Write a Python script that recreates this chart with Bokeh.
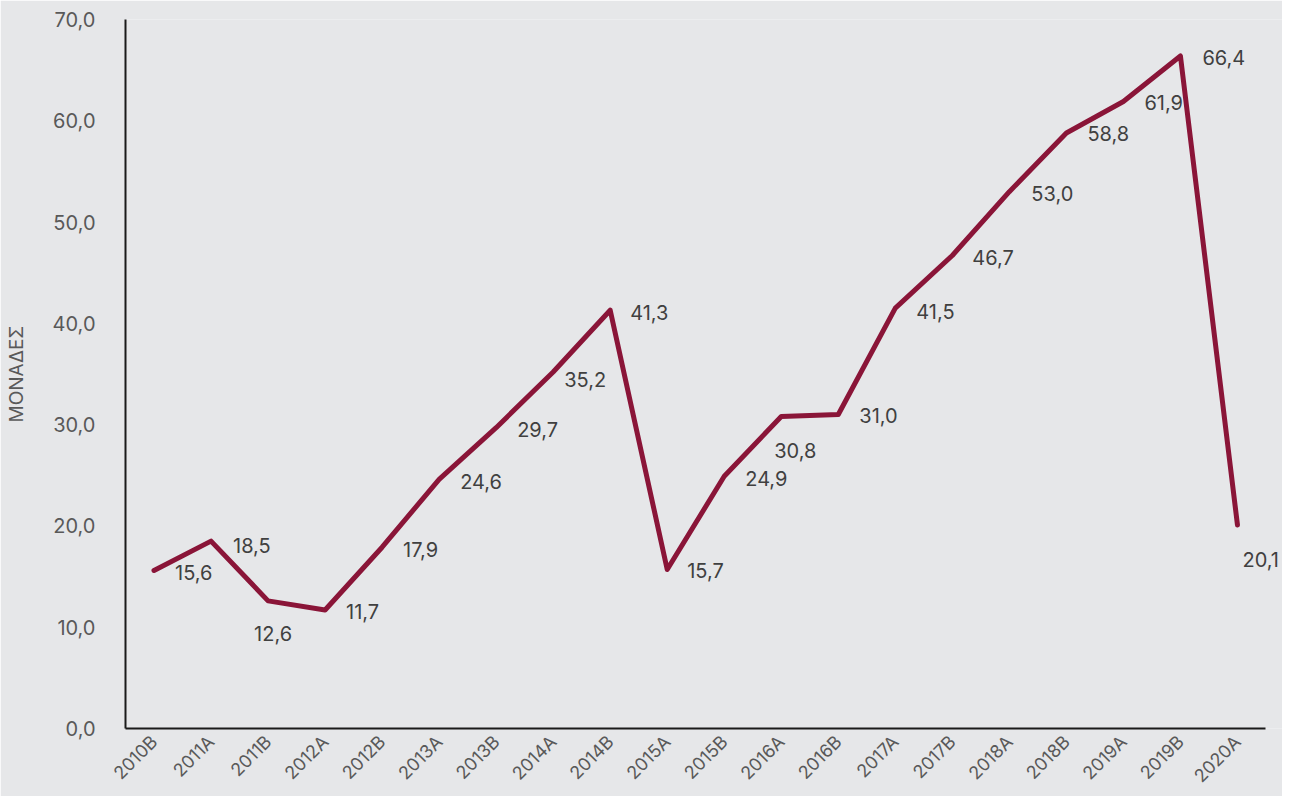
import math
from bokeh.plotting import figure
from bokeh.models import ColumnDataSource, Range1d, FixedTicker, CustomJSTickFormatter, Label
from bokeh.embed import file_html
from bokeh.resources import INLINE

periods = ["2010B", "2011A", "2011B", "2012A", "2012B", "2013A", "2013B", "2014A",
           "2014B", "2015A", "2015B", "2016A", "2016B", "2017A", "2017B", "2018A",
           "2018B", "2019A", "2019B", "2020A"]
values = [15.6, 18.5, 12.6, 11.7, 17.9, 24.6, 29.7, 35.2, 41.3, 15.7,
          24.9, 30.8, 31.0, 41.5, 46.7, 53.0, 58.8, 61.9, 66.4, 20.1]
y_ticks = [0, 10, 20, 30, 40, 50, 60, 70]
y_title = "ΜΟΝΑΔΕΣ"

# label placement offsets (screen px, dy positive = downwards)
lbl_dx = [21, 22, -14, 21, 21, 21, 21, 11, 20, 20, 21, -7, 21, 21, 20, 22, 21, 21, 22, 5]
lbl_dy = [2, 4, 33, 2, 2, 2, 2, 8, 2, 1, 2, 34, 1, 3, 2, 2, 1, 1, 2, 35]

BG = "#e6e7e9"
LINE = "#8a1538"
FONT = "Inter"

n = len(periods)
xpos = [i + 0.5 for i in range(n)]          # category centres on a numeric scale
src = ColumnDataSource(dict(x=xpos, y=values))

p = figure(x_range=Range1d(0, n + 0.29), y_range=Range1d(0, 70),
           width=1282, height=796,
           min_border_left=125, min_border_top=19, min_border_right=0, min_border_bottom=67,
           output_backend="svg", toolbar_location=None,
           background_fill_color=BG, border_fill_color=BG, outline_line_color=None)

p.line("x", "y", source=src, line_color=LINE, line_width=5,
       line_join="round", line_cap="round")

for xv, v, dx, dy in zip(xpos, values, lbl_dx, lbl_dy):
    p.add_layout(Label(x=xv, y=v, text=f"{v:.1f}".replace(".", ","),
                       x_offset=dx, y_offset=-dy,
                       text_align="left", text_baseline="middle",
                       text_font=FONT, text_font_size="20px", text_color="#404040"))

p.xgrid.visible = False
p.ygrid.visible = False

p.xaxis.ticker = FixedTicker(ticks=xpos)
p.xaxis.major_label_overrides = {xv: lab for xv, lab in zip(xpos, periods)}
p.xaxis.bounds = (0, n)

p.yaxis.ticker = FixedTicker(ticks=y_ticks)
p.yaxis.formatter = CustomJSTickFormatter(code="return tick.toFixed(1).replace('.', ',');")
p.yaxis.axis_label = y_title
p.yaxis.axis_label_text_font = FONT
p.yaxis.axis_label_text_font_size = "19px"
p.yaxis.axis_label_text_font_style = "normal"
p.yaxis.axis_label_text_color = "#595959"
p.yaxis.axis_label_standoff = 22

for ax in (p.xaxis[0], p.yaxis[0]):
    ax.major_tick_line_color = None
    ax.minor_tick_line_color = None
    ax.axis_line_color = "#1a1a1a"
    ax.axis_line_width = 2
    ax.major_label_text_font = FONT
    ax.major_label_text_color = "#595959"

p.yaxis.major_label_text_font_size = "20px"
p.yaxis.major_label_standoff = 24
p.xaxis.major_label_text_font_size = "18px"
p.xaxis.major_label_orientation = math.pi / 4
p.xaxis.major_label_standoff = 4

open("out.html", "w").write(file_html(p, INLINE))
